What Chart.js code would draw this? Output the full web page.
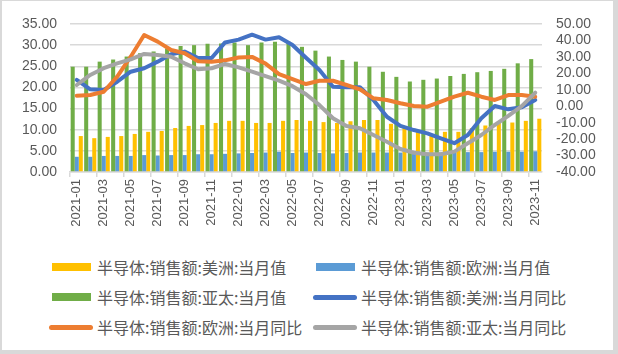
<!DOCTYPE html>
<html>
<head>
<meta charset="utf-8">
<script src="https://cdn.jsdelivr.net/npm/chart.js@4/dist/chart.umd.min.js"></script>
<style>
  body { margin: 0; background: #fff; }
  #wrap { position: relative; width: 618px; height: 354px; background: #fff; }
  #frame { position: absolute; left: 0; top: 0; width: 611px; height: 349px;
           border-style: solid; border-color: #d9d9d9; border-width: 1px 5px 4px 2px; }
  #c { position: absolute; left: 0; top: 0; }
  #legend { position: absolute; left: 49px; top: 252px; width: 540px;
            display: grid; grid-template-columns: 264px 276px; grid-auto-rows: 30px;
            font-family: "Noto Sans CJK SC", sans-serif; font-size: 16px; color: #595959; }
  .item { display: flex; align-items: center; white-space: nowrap; }
  .sw { display: inline-block; margin-right: 6px; }
</style>
</head>
<body>
<div id="wrap">
  <div id="frame"></div>
  <canvas id="c" width="618" height="245"></canvas>
  <div id="legend"></div>
</div>
<script>
// Meses
const meses = [
  "2021-01","2021-02","2021-03","2021-04","2021-05","2021-06","2021-07","2021-08","2021-09","2021-10","2021-11","2021-12",
  "2022-01","2022-02","2022-03","2022-04","2022-05","2022-06","2022-07","2022-08","2022-09","2022-10","2022-11","2022-12",
  "2023-01","2023-02","2023-03","2023-04","2023-05","2023-06","2023-07","2023-08","2023-09","2023-10","2023-11"
];

// Valores mensuales (eje izquierdo)
const americasMes = [8.5, 8.0, 8.3, 8.5, 9.0, 9.5, 9.7, 10.4, 10.9, 11.1, 11.6, 12.1,
  12.1, 11.6, 11.6, 12.1, 12.3, 12.1, 11.8, 11.6, 12.0, 12.3, 12.3, 11.4,
  10.4, 9.5, 9.0, 9.5, 9.5, 10.4, 11.0, 11.6, 11.7, 12.1, 12.6];
const europaMes = [3.6, 3.6, 3.8, 3.8, 3.8, 4.0, 3.9, 4.0, 4.0, 4.2, 4.2, 4.3,
  4.4, 4.5, 4.6, 4.8, 4.5, 4.6, 4.5, 4.4, 4.5, 4.6, 4.6, 4.6,
  4.6, 4.6, 4.6, 4.6, 4.7, 4.7, 4.7, 4.8, 4.8, 4.8, 4.9];
const asiaMes = [24.9, 24.9, 26.1, 26.6, 27.3, 28.1, 28.5, 29.2, 29.8, 30.0, 30.3, 30.4,
  30.6, 30.0, 30.6, 30.8, 30.8, 29.6, 28.7, 27.3, 26.5, 26.1, 24.9, 23.7,
  22.5, 21.4, 21.8, 22.1, 22.7, 23.2, 23.6, 23.9, 24.4, 25.7, 26.7];

// Variación interanual (eje derecho)
const americasYoY = [16.0, 10.3, 9.9, 14.9, 21.0, 23.1, 27.1, 31.6, 33.2, 29.3, 29.3, 38.8,
  40.5, 43.5, 40.5, 41.9, 37.2, 29.5, 22.0, 11.9, 11.5, 11.5, 3.8, -6.4,
  -12.0, -14.5, -16.5, -19.5, -22.5, -17.5, -7.3, 0.1, -1.9, -0.6, 3.8];
const europaYoY = [6.4, 6.8, 8.8, 18.0, 30.1, 43.3, 39.3, 34.2, 32.2, 27.3, 27.1, 27.9,
  29.6, 30.0, 25.9, 19.5, 16.5, 13.5, 15.5, 15.5, 12.9, 10.3, 4.8, 3.8,
  1.8, 0.1, -0.3, 2.8, 5.8, 8.2, 5.8, 3.8, 6.8, 6.8, 5.8];
const asiaYoY = [12.9, 19.0, 23.1, 26.1, 28.5, 31.8, 31.2, 30.1, 26.1, 22.5, 23.1, 25.7,
  23.6, 21.0, 18.3, 15.6, 12.2, 7.3, 0.7, -7.3, -12.0, -13.4, -17.5, -21.6,
  -26.0, -28.3, -29.2, -29.2, -27.6, -22.5, -17.5, -11.4, -5.9, 0.1, 8.2];

const nombres = [
  "半导体:销售额:美洲:当月值", "半导体:销售额:欧洲:当月值", "半导体:销售额:亚太:当月值",
  "半导体:销售额:美洲:当月同比", "半导体:销售额:欧洲:当月同比", "半导体:销售额:亚太:当月同比"
];

const gris = "#595959";
const fuenteEje = { family: "Liberation Sans", size: 14 };

const barra = (label, data, color, order) => ({
  type: "bar", label, data, backgroundColor: color, yAxisID: "y",
  barPercentage: 1.0, categoryPercentage: 0.9, order
});
const linea = (label, data, color, order) => ({
  type: "line", label, data, borderColor: color, backgroundColor: color, yAxisID: "y1",
  borderWidth: 4, pointRadius: 0, tension: 0, borderJoinStyle: "round", borderCapStyle: "round", order
});

const datasets = [
  barra(nombres[0], americasMes, "#FFC000", 5),
  barra(nombres[1], europaMes, "#5B9BD5", 4),
  barra(nombres[2], asiaMes, "#70AD47", 3),
  linea(nombres[3], americasYoY, "#4472C4", 2),
  linea(nombres[4], europaYoY, "#ED7D31", 1),
  linea(nombres[5], asiaYoY, "#A5A5A5", 0)
];

new Chart(document.getElementById("c"), {
  data: { labels: meses, datasets },
  options: {
    responsive: false,
    animation: false,
    layout: { padding: { top: 24, left: 0, right: 0, bottom: 0 } },
    plugins: { legend: { display: false }, tooltip: { enabled: false } },
    scales: {
      x: {
        grid: {
          drawOnChartArea: false, tickLength: 5, lineWidth: 1.5,
          color: ctx => ctx.index % 2 === 0 ? "#D9D9D9" : "rgba(0,0,0,0)"
        },
        border: { display: true, color: "#D9D9D9", width: 1.5 },
        ticks: {
          autoSkip: false, maxRotation: 90, minRotation: 90, padding: 2,
          color: gris, font: { family: "Liberation Sans", size: 13 },
          callback: function (v, i) { return i % 2 === 0 ? this.getLabelForValue(v) : ""; }
        },
        afterFit: s => { s.height = 73; }
      },
      y: {
        position: "left", min: 0, max: 35,
        grid: { color: "#D9D9D9", lineWidth: 1.5, drawTicks: false },
        border: { display: false },
        ticks: { stepSize: 5, autoSkip: false, padding: 13, color: gris, font: fuenteEje, callback: v => v.toFixed(2) },
        afterFit: s => { s.width = 70; }
      },
      y1: {
        position: "right", min: -40, max: 50,
        grid: { display: false, drawTicks: false },
        border: { display: false },
        ticks: { stepSize: 10, autoSkip: false, padding: 14, color: gris, font: fuenteEje, callback: v => v.toFixed(2) },
        afterFit: s => { s.width = 76; }
      }
    }
  }
});

// Leyenda en dos columnas
const leyenda = document.getElementById("legend");
datasets.forEach(ds => {
  const item = document.createElement("div");
  item.className = "item";
  const sw = document.createElement("span");
  sw.className = "sw";
  if (ds.type === "bar") {
    sw.style.cssText = `width:39px;height:8px;background:${ds.backgroundColor};margin-left:3px;margin-right:6px`;
  } else {
    sw.style.cssText = `width:44px;height:5px;border-radius:3px;background:${ds.borderColor};margin-right:4px`;
  }
  const txt = document.createElement("span");
  txt.textContent = ds.label;
  item.appendChild(sw);
  item.appendChild(txt);
  leyenda.appendChild(item);
});
</script>
</body>
</html>
